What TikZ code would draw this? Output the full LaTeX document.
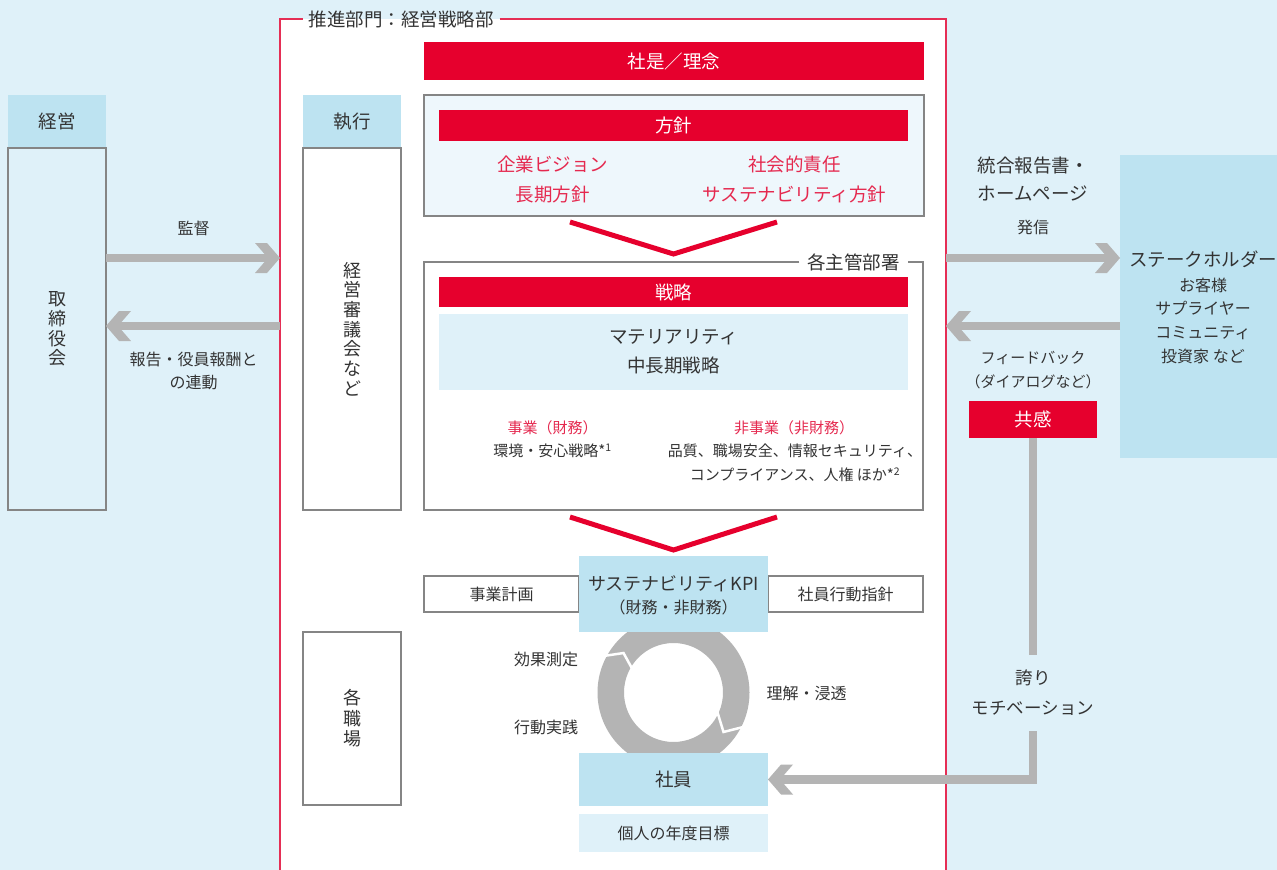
\documentclass[tikz,border=0pt]{standalone}
\usepackage{fontspec}
\setmainfont{Noto Sans CJK JP}
\usetikzlibrary{calc,arrows.meta}

\definecolor{bg}{HTML}{DFF1F9}
\definecolor{hdr}{HTML}{BDE3F1}
\definecolor{pale}{HTML}{EEF7FC}
\definecolor{brand}{HTML}{E6002D}
\definecolor{redtxt}{HTML}{E5294F}
\definecolor{txt}{HTML}{333333}
\definecolor{arrowgray}{HTML}{B4B4B4}
\definecolor{lineg}{HTML}{858585}
\definecolor{panelred}{HTML}{E52E55}

\pgfdeclarearrow{
  name=Chev,
  parameters={chev},
  setup code={
    \pgfarrowssettipend{0pt}
    \pgfarrowssetlineend{-10pt}
    \pgfarrowssetvisualbackend{-25pt}
    \pgfarrowssetbackend{-25pt}
    \pgfarrowshullpoint{0pt}{0pt}
    \pgfarrowshullpoint{-25pt}{15pt}
    \pgfarrowshullpoint{-25pt}{-15pt}
  },
  drawing code={
    \pgfpathmoveto{\pgfpointorigin}
    \pgfpathlineto{\pgfpoint{-13pt}{15pt}}
    \pgfpathlineto{\pgfpoint{-25pt}{15pt}}
    \pgfpathlineto{\pgfpoint{-12pt}{0pt}}
    \pgfpathlineto{\pgfpoint{-25pt}{-15pt}}
    \pgfpathlineto{\pgfpoint{-13pt}{-15pt}}
    \pgfpathclose
    \pgfusepathqfill
  }
}

\begin{document}
\begin{tikzpicture}[x=1pt,y=-1pt,
  every node/.style={inner sep=0pt,outer sep=0pt,text=txt},
  lg/.style={font=\fontsize{18.5pt}{22pt}\selectfont},
  sm/.style={font=\fontsize{16pt}{20pt}\selectfont},
  mid/.style={font=\fontsize{15pt}{24pt}\selectfont},
  vt/.style={font=\fontsize{18pt}{19.7pt}\selectfont},
  nw/.style={anchor=north west},
  redbar/.style={nw,fill=brand,text=white,lg},
  hdrbox/.style={nw,fill=hdr,lg},
  gbox/.style={nw,draw=lineg,line width=1.2pt},
  bigarrow/.style={draw=arrowgray,line width=8.5pt,-{Chev[]}},
  chevron/.style={draw=brand,line width=5pt,line join=miter},
  rtext/.style={text=redtxt},
  panelline/.style={draw=panelred,line width=1.3pt},
  gap/.style={draw=white,line width=2.5pt,line join=miter},
]
\useasboundingbox (0,0) rectangle (1277,870);
\fill[bg] (0,0) rectangle (1277,870);

\coordinate (yA) at (0,258);
\coordinate (yB) at (0,326);

% ---------- main panel ----------
\node[nw,fill=white,minimum width=666pt,minimum height=860pt] (panel) at (280,19) {};
\node[lg,inner xsep=6pt] (ttl) at (401,19) {推進部門：経営戦略部};
\draw[panelline] (ttl.west) -| (panel.south west);
\draw[panelline] (ttl.east) -| (panel.south east);

% ---------- left column ----------
\node[hdrbox,minimum width=98pt,minimum height=53pt] (keiei) at (8,95) {経営};
\node[gbox,minimum width=98pt,minimum height=362pt,align=center,vt] (tori) at (8,148) {取\\締\\役\\会};
\node[sm] (kantoku) at (193.5,228.5) {監督};
\node[align=center,font=\fontsize{16pt}{23pt}\selectfont] (houkoku) at (193.5,371) {報告・役員報酬と\\の連動};
\draw[bigarrow] (tori.east |- yA) -- (panel.west |- yA);
\draw[bigarrow] (panel.west |- yB) -- (tori.east |- yB);

% ---------- panel: left boxes ----------
\node[hdrbox,minimum width=98pt,minimum height=53pt] (shikko) at (303,95) {執行};
\node[gbox,fill=white,minimum width=98pt,minimum height=362pt,align=center,vt] (council) at (303,148) {経\\営\\審\\議\\会\\な\\ど};
\node[gbox,fill=white,minimum width=98pt,minimum height=173pt,align=center,font=\fontsize{18pt}{20.5pt}\selectfont] (shokuba) at (303,632) {各\\職\\場};

% ---------- philosophy / policy ----------
\node[redbar,minimum width=500pt,minimum height=38pt] (shaze) at (424,42) {社是／理念};
\node[gbox,fill=pale,minimum width=500pt,minimum height=121pt] (hbox) at (424,95) {};
\node[redbar,minimum width=469pt,minimum height=31pt] (houshin) at (439,110) {方針};
\node[rtext,align=center,font=\fontsize{18.5pt}{30pt}\selectfont] (vision) at (552.5,179) {企業ビジョン\\長期方針};
\node[rtext,align=center,font=\fontsize{18.5pt}{30pt}\selectfont] (csr) at (794.5,179) {社会的責任\\サステナビリティ方針};

\draw[chevron] (570,222) -- (673.5,254) -- (777,222);

% ---------- strategy ----------
\node[lg,inner xsep=8pt] (dept) at (853.5,262) {各主管部署};
\draw[draw=lineg,line width=1.2pt] (dept.west) -- (424,262) -- (424,510) -- (923,510) -- (923,262) -- (dept.east);
\node[redbar,minimum width=469pt,minimum height=30pt] (senryaku) at (439,277) {戦略};
\node[nw,fill=bg,minimum width=469pt,minimum height=76pt,align=center,font=\fontsize{18.5pt}{29pt}\selectfont] (mat) at (439,314) {マテリアリティ\\中長期戦略};
\node[rtext,mid] (biz) at (552.5,427.5) {事業（財務）};
\node[mid] (bizd) at (552.5,451) {環境・安心戦略*\textsuperscript{1}};
\node[rtext,mid] (nbiz) at (794,427.5) {非事業（非財務）};
\node[mid,align=center] (nbizd) at (795,463) {品質、職場安全、情報セキュリティ、\\コンプライアンス、人権 ほか*\textsuperscript{2}};

\draw[chevron] (570,517) -- (673.5,550) -- (777,517);

% ---------- cycle ----------
\coordinate (rc) at (673.5,692.5);
\fill[arrowgray,even odd rule] (rc) circle[radius=76pt] (rc) circle[radius=49.5pt];
\draw[gap] ($(rc)+(-153:80)$) -- ($(rc)+(-141.7:63.7)$) -- ($(rc)+(-151.4:46)$);
\draw[gap] ($(rc)+(25:80)$) -- ($(rc)+(38.3:63.7)$) -- ($(rc)+(21:46)$);

\node[gbox,fill=white,minimum width=155pt,minimum height=36pt,sm] (plan) at (424,576) {事業計画};
\node[gbox,fill=white,minimum width=155pt,minimum height=36pt,sm] (code) at (768,576) {社員行動指針};
\node[nw,fill=hdr,minimum width=189pt,minimum height=76pt] (kpi) at (579,556) {};
\node[font=\fontsize{18pt}{20pt}\selectfont] (kpit) at (673.5,583.5) {サステナビリティKPI};
\node[sm] (kpis) at (673.5,607.5) {（財務・非財務）};
\node[hdrbox,minimum width=189pt,minimum height=53pt] (shain) at (579,753) {社員};
\node[nw,fill=bg,minimum width=189pt,minimum height=38pt,sm] (goal) at (579,814) {個人の年度目標};

\node[sm] (kouka) at (546,659.5) {効果測定};
\node[sm] (koudou) at (546,727.5) {行動実践};
\node[sm] (rikai) at (806.5,693) {理解・浸透};

% ---------- right side ----------
\node[align=center,font=\fontsize{18.5pt}{28pt}\selectfont] (report) at (1033,179) {統合報告書・\\ホームページ};
\node[sm] (hasshin) at (1033,227.5) {発信};
\node[nw,fill=hdr,minimum width=157pt,minimum height=303pt] (stake) at (1120,155) {};
\node[lg] (staket) at (1203,259) {ステークホルダー};
\node[align=center,font=\fontsize{16pt}{23.7pt}\selectfont] (stakel) at (1203,320.5) {お客様\\サプライヤー\\コミュニティ\\投資家 など};
\draw[bigarrow] (panel.east |- yA) -- (stake.west |- yA);
\draw[bigarrow] (stake.west |- yB) -- (panel.east |- yB);

\node[align=center,font=\fontsize{15pt}{24.5pt}\selectfont] (fb) at (1033,370) {フィードバック\\（ダイアログなど）};
\node[redbar,minimum width=128pt,minimum height=37pt] (kyo) at (969,401) {共感};
\node[align=center,font=\fontsize{17.5pt}{30pt}\selectfont,minimum height=76pt] (pride) at (1033,693) {誇り\\モチベーション};
\draw[draw=arrowgray,line width=8.5pt] (kyo.south) -- (pride.north);
\draw[bigarrow,line join=miter] (pride.south) |- (shain.east);
\end{tikzpicture}
\end{document}
